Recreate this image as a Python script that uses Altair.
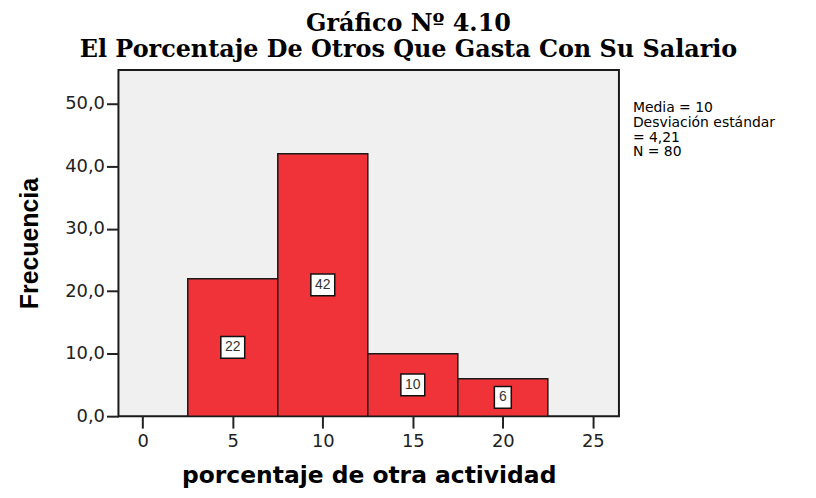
import altair as alt
import pandas as pd

# Data
centers = [5, 10, 15, 20]
counts = [22, 42, 10, 6]
bin_width = 5
stats_lines = ["Media = 10", "Desviación estándar", "= 4,21", "N = 80"]
title_lines = ["Gráfico Nº 4.10", "El Porcentaje De Otros Que Gasta Con Su Salario"]
x_ticks = [0, 5, 10, 15, 20, 25]
y_ticks = [0, 10, 20, 30, 40, 50]

df = pd.DataFrame({"center": centers, "count": counts})
df["start"] = df["center"] - bin_width / 2
df["end"] = df["center"] + bin_width / 2
df["half"] = df["count"] / 2
df["label"] = df["count"].astype(str)
df["digits"] = df["label"].str.len()

W, H = 503, 348

xscale = alt.Scale(domain=[-1.35, 26.45], nice=False, zero=False)
yscale = alt.Scale(domain=[0, 55.4], nice=False)

base = alt.Chart(df)

bars = base.mark_bar(color="#f03239", stroke="#1a1a1a", strokeWidth=1.5).encode(
    x=alt.X("start:Q", scale=xscale,
            axis=alt.Axis(values=x_ticks, title="porcentaje de otra actividad", grid=False,
                          domain=False, tickSize=12, tickWidth=2, tickColor="#222",
                          labelFontSize=18, labelFont="DejaVu Sans", labelColor="#222",
                          labelPadding=4, titleFont="DejaVu Sans", titleFontSize=23.5,
                          titleFontWeight="bold", titleColor="#000", titlePadding=14)),
    x2="end:Q",
    y=alt.Y("count:Q", scale=yscale,
            axis=alt.Axis(values=y_ticks, title="Frecuencia", grid=False, domain=False,
                          tickSize=12, tickWidth=2, tickColor="#222",
                          labelExpr="replace(format(datum.value, '.1f'), '.', ',')",
                          labelFontSize=18, labelFont="DejaVu Sans", labelColor="#222",
                          labelPadding=2, titleFont="Liberation Sans", titleFontSize=25,
                          titleFontWeight="bold", titleColor="#000", titlePadding=22)),
    y2=alt.datum(0),
)

box2 = base.transform_filter("datum.digits == 2").mark_rect(
    width=24, height=22, fill="white", stroke="#111", strokeWidth=1.5
).encode(x=alt.X("center:Q", scale=xscale), y=alt.Y("half:Q", scale=yscale))

box1 = base.transform_filter("datum.digits == 1").mark_rect(
    width=17, height=22, fill="white", stroke="#111", strokeWidth=1.5
).encode(x=alt.X("center:Q", scale=xscale), y=alt.Y("half:Q", scale=yscale))

labels = base.mark_text(font="Liberation Sans", fontSize=14, color="#333").encode(
    x=alt.X("center:Q", scale=xscale), y=alt.Y("half:Q", scale=yscale), text="label:N"
)

stats = alt.Chart(pd.DataFrame({"t": [0]})).mark_text(
    align="left", baseline="top", font="DejaVu Sans", fontSize=14, lineHeight=15,
    color="#000"
).encode(x=alt.value(W + 14), y=alt.value(31), text=alt.value(stats_lines))

chart = alt.layer(bars, box2, box1, labels, stats).properties(
    width=W, height=H,
    title=alt.TitleParams(title_lines, font="DejaVu Serif", fontSize=24,
                          fontWeight="bold", color="#000", anchor="middle",
                          dx=40, offset=8, lineHeight=26),
    autosize=alt.AutoSizeParams(type="none"),
    padding={"left": 111, "top": 61, "right": 190, "bottom": 75},
).configure(background="white").configure_view(
    fill="#f0f0f0", stroke="#1a1a1a", strokeWidth=2
)

chart.save("out.html", embed_options={"renderer": "svg", "actions": False})
